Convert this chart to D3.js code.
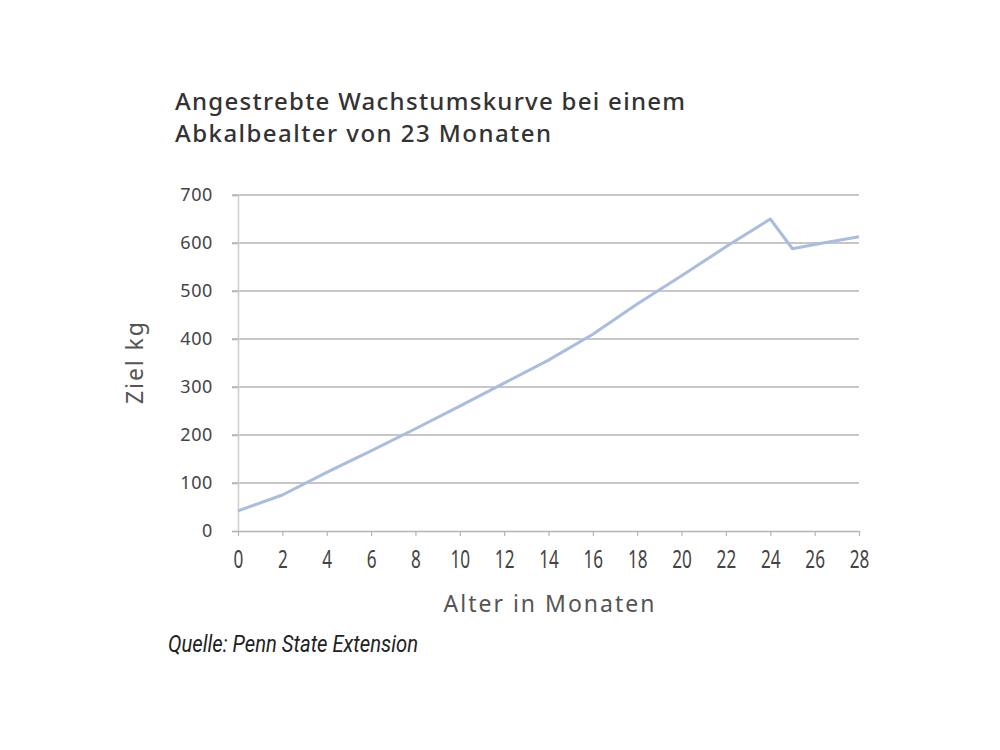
<!DOCTYPE html>
<html lang="de">
<head>
  <meta charset="utf-8">
  <title>Angestrebte Wachstumskurve</title>
  <script src="https://d3js.org/d3.v7.min.js"></script>
  <style>
    body { margin: 0; background: #fff; }
    .title { font-family: "Noto Sans", "Open Sans", sans-serif; font-size: 24px; font-weight: 500; fill: #333; }
    .tick text { font-family: "Noto Sans", "Open Sans", sans-serif; fill: #444; }
    .label { font-family: "Noto Sans", "Open Sans", sans-serif; font-size: 23px; font-weight: 400; fill: #555; }
    .source { font-family: Roboto, "Noto Sans", sans-serif; font-style: italic; font-size: 23px; fill: #222; }
  </style>
</head>
<body>
<div id="chart"></div>
<script>
  // values
  const months  = [0, 2, 4, 6, 8, 10, 12, 14, 16, 18, 20, 22, 24, 25, 26, 28];
  const targetKg = [42, 75, 122, 167, 213, 260, 308, 356, 410, 473, 532, 592, 650, 588, 597, 613];
  const xTicks = [0, 2, 4, 6, 8, 10, 12, 14, 16, 18, 20, 22, 24, 26, 28];
  const yTicks = [0, 100, 200, 300, 400, 500, 600, 700];

  const data = months.map((m, i) => ({ m: m, kg: targetKg[i] }));

  var margin = {top: 195, right: 141, bottom: 219, left: 238},
    width = 1000 - margin.left - margin.right,
    height = 750 - margin.top - margin.bottom;

  const root = d3.select("#chart").append("svg")
    .attr("width", 1000)
    .attr("height", 750);

  const svg = root.append("g")
    .attr("transform", "translate(" + margin.left + "," + margin.top + ")");

  const x = d3.scaleLinear().domain([0, 28]).range([0, width]);
  const y = d3.scaleLinear().domain([0, 700]).range([height, 0]);

  // gridlines
  svg.append("g")
    .selectAll("line")
    .data(yTicks.filter(d => d > 0))
    .enter()
    .append("line")
      .attr("x1", -6)
      .attr("x2", width)
      .attr("y1", d => y(d))
      .attr("y2", d => y(d))
      .attr("stroke", "#b4b4b4")
      .attr("stroke-width", 1.5);

  // y axis
  const yAxis = svg.append("g")
    .call(d3.axisLeft(y).tickValues(yTicks).tickSize(6).tickPadding(19));
  yAxis.select(".domain").attr("stroke", "#cfcfcf").attr("stroke-width", 1.5);
  yAxis.selectAll(".tick line").attr("stroke", "#b4b4b4").attr("stroke-width", 1.5);
  yAxis.selectAll("text")
    .style("font-size", "18px")
    .style("letter-spacing", "0.6px");

  // x axis - tall narrow digits like the original
  const xAxis = svg.append("g")
    .attr("transform", "translate(0," + height + ")")
    .call(d3.axisBottom(x).tickValues(xTicks).tickSize(5).tickSizeOuter(0).tickPadding(14));
  xAxis.select(".domain").attr("stroke", "#b4b4b4").attr("stroke-width", 1.5);
  xAxis.selectAll(".tick line").attr("stroke", "#b4b4b4").attr("stroke-width", 1.2);
  xAxis.selectAll("text")
    .style("font-size", "26px")
    .style("fill", "#444")
    .attr("transform", "scale(0.66,1)");

  // line
  const line = d3.line()
    .x(d => x(d.m))
    .y(d => y(d.kg));

  svg.append("path")
    .datum(data)
    .attr("fill", "none")
    .attr("stroke", "#a9bde0")
    .attr("stroke-width", 3)
    .attr("stroke-linejoin", "round")
    .attr("d", line);

  // title
  const title = root.append("text")
    .attr("class", "title")
    .attr("y", 110);
  title.append("tspan").attr("x", 175)
    .attr("textLength", 510).attr("lengthAdjust", "spacing")
    .text("Angestrebte Wachstumskurve bei einem");
  title.append("tspan").attr("x", 175).attr("dy", 32)
    .attr("textLength", 376).attr("lengthAdjust", "spacing")
    .text("Abkalbealter von 23 Monaten");

  // axis labels
  root.append("text")
    .attr("class", "label")
    .attr("transform", "translate(143," + (margin.top + height / 2) + ") rotate(-90)")
    .attr("text-anchor", "middle")
    .attr("textLength", 82).attr("lengthAdjust", "spacing")
    .text("Ziel kg");

  root.append("text")
    .attr("class", "label")
    .attr("x", 549)
    .attr("y", 612)
    .attr("text-anchor", "middle")
    .attr("textLength", 211).attr("lengthAdjust", "spacing")
    .text("Alter in Monaten");

  // source
  root.append("text")
    .attr("class", "source")
    .attr("x", 168)
    .attr("y", 652)
    .attr("textLength", 250).attr("lengthAdjust", "spacingAndGlyphs")
    .text("Quelle: Penn State Extension");
</script>
</body>
</html>
